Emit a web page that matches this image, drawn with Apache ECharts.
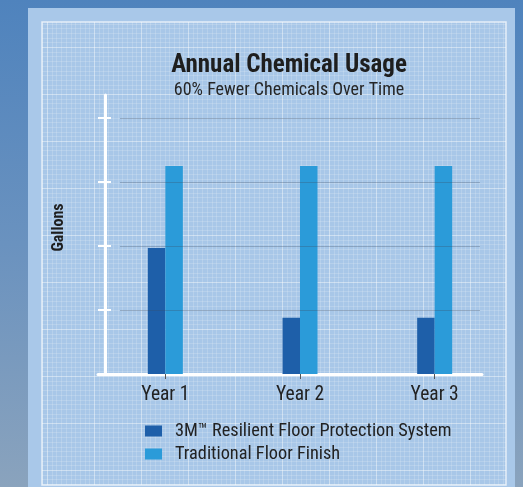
<!DOCTYPE html>
<html><head><meta charset="utf-8">
<style>html,body{margin:0;padding:0;}#c{width:523px;height:487px;}</style>
<script src="https://cdn.jsdelivr.net/npm/echarts@6/dist/echarts.min.js"></script>
</head><body><div id="c"></div>
<script>
const categories = ['Year 1', 'Year 2', 'Year 3'];
const seriesNames = ['3M\u2122 Resilient Floor Protection System', 'Traditional Floor Finish'];
const resilientValues = [1.97, 0.88, 0.88];
const traditionalValues = [3.25, 3.25, 3.25];
const titleText = 'Annual Chemical Usage';
const subtitleText = '60% Fewer Chemicals Over Time';
const yAxisName = 'Gallons';

const FONT = "'Liberation Sans Narrow', 'Roboto Condensed', 'Liberation Sans', sans-serif";

// blueprint grid pattern
const pc = document.createElement('canvas');
pc.width = 47; pc.height = 47;
const g = pc.getContext('2d');
g.fillStyle = '#a8c7e8'; g.fillRect(0,0,47,47);
g.strokeStyle = 'rgba(255,255,255,0.16)'; g.lineWidth = 1;
for (let i = 0; i < 47; i += 4.7) {
  g.beginPath(); g.moveTo(Math.round(i)+0.5,0); g.lineTo(Math.round(i)+0.5,47); g.stroke();
  g.beginPath(); g.moveTo(0,Math.round(i)+0.5); g.lineTo(47,Math.round(i)+0.5); g.stroke();
}
g.strokeStyle = 'rgba(255,255,255,0.32)';
g.beginPath(); g.moveTo(0.5,0); g.lineTo(0.5,47); g.stroke();
g.beginPath(); g.moveTo(0,0.5); g.lineTo(47,0.5); g.stroke();

const chart = echarts.init(document.getElementById('c'), null, {renderer: 'canvas'});
chart.setOption({
  animation: false,
  backgroundColor: {
    type: 'linear', x: 0, y: 0, x2: 0, y2: 1,
    colorStops: [{offset: 0, color: '#4f83bd'}, {offset: 0.5, color: '#6a92bf'}, {offset: 1, color: '#8aa3bd'}]
  },
  graphic: [
    {type: 'rect', shape: {x: 28, y: 8, width: 487, height: 480}, style: {fill: '#a9c8e9'}, z: -10},
    {type: 'rect', shape: {x: 42, y: 22, width: 464, height: 463}, style: {fill: {image: pc, repeat: 'repeat'}, stroke: 'rgba(255,255,255,0.7)', lineWidth: 1.5}, z: -9}
  ],
  title: [
    {text: titleText, left: 284, top: 48, textAlign: 'center',
     textStyle: {fontFamily: FONT, fontSize: 25, fontWeight: 'bold', color: '#1e1e1e'}},
    {text: subtitleText, left: 284, top: 76, textAlign: 'center',
     textStyle: {fontFamily: FONT, fontSize: 18, fontWeight: 'normal', color: '#262626'}}
  ],
  legend: {
    orient: 'vertical', left: 140, top: 416, itemWidth: 17, itemHeight: 11, itemGap: 3,
    icon: 'rect',
    textStyle: {fontFamily: FONT, fontSize: 18.3, color: '#222', lineHeight: 20, padding: [0, 0, 0, 8]},
    data: seriesNames
  },
  grid: [
    {left: 98, right: 21, top: 118, bottom: 113},
    {left: 98, right: 41, top: 95, bottom: 113},
    {left: 120, right: 43, top: 118, bottom: 113}
  ],
  xAxis: [
    {type: 'category', gridIndex: 0, data: categories,
     axisLine: {show: false},
     axisTick: {show: true, alignWithLabel: true, length: 5, lineStyle: {color: '#555', width: 1}},
     axisLabel: {fontFamily: FONT, fontSize: 19.5, color: '#222', margin: 11},
     splitLine: {show: false}},
    {type: 'value', gridIndex: 1, min: 0, max: 1,
     axisLine: {show: true, lineStyle: {color: '#ffffff', width: 3}},
     axisTick: {show: false}, axisLabel: {show: false}, splitLine: {show: false}},
    {type: 'value', gridIndex: 2, min: 0, max: 1, show: false}
  ],
  yAxis: [
    {type: 'value', gridIndex: 0, min: 0, max: 4, interval: 1,
     axisLine: {show: false},
     axisTick: {show: true, inside: true, length: 13, lineStyle: {color: '#ffffff', width: 2}},
     axisLabel: {show: false}, splitLine: {show: false}},
    {type: 'value', gridIndex: 1, min: 0, max: 1, offset: -7,
     axisLine: {show: true, onZero: false, lineStyle: {color: '#ffffff', width: 3}},
     axisTick: {show: false}, axisLabel: {show: false}, splitLine: {show: false},
     name: yAxisName, nameLocation: 'middle', nameGap: 38, nameRotate: 90,
     nameTextStyle: {fontFamily: FONT, fontSize: 16, fontWeight: 'bold', color: '#1e1e1e', padding: [0, 0, 0, 14]}},
    {type: 'value', gridIndex: 2, min: 0, max: 4, interval: 1, z: 5,
     axisLine: {show: false}, axisTick: {show: false}, axisLabel: {show: false},
     splitLine: {show: true, showMinLine: false, lineStyle: {color: 'rgba(60,75,100,0.3)', width: 1}}}
  ],
  series: [
    {name: seriesNames[0], type: 'bar', xAxisIndex: 0, yAxisIndex: 0, data: resilientValues,
     barWidth: 17.5, barGap: '0%', itemStyle: {color: '#1e5fa9'}},
    {name: seriesNames[1], type: 'bar', xAxisIndex: 0, yAxisIndex: 0, data: traditionalValues,
     barWidth: 17.5, barGap: '0%', itemStyle: {color: '#2b9bd9'}}
  ]
});
</script></body></html>
